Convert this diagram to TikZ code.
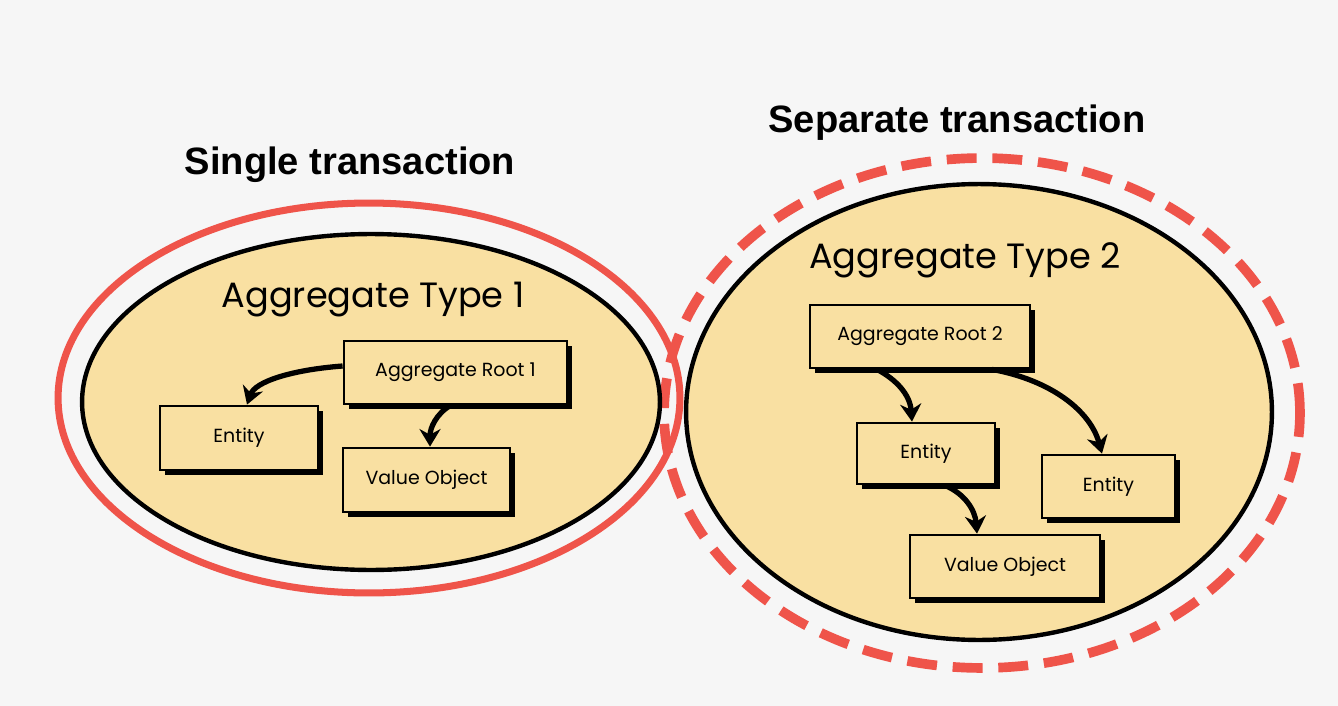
\documentclass[tikz,border=0pt]{standalone}
\usepackage{fontspec}
\setmainfont{Liberation Sans}
\newfontfamily\boxfont{Poppins}
\usetikzlibrary{arrows.meta,calc,shadows}
\definecolor{bg}{RGB}{246,246,246}
\definecolor{beige}{RGB}{249,224,162}
\definecolor{tred}{RGB}{239,84,74}
\tikzset{
  bx/.style={draw=black, line width=1.6pt, fill=beige, inner sep=0pt,
    font=\boxfont\fontsize{10.8}{12}\selectfont,
    drop shadow={shadow xshift=2.8pt, shadow yshift=-2.8pt, fill=black, opacity=1}},
  arr/.style={line width=3pt, -{Stealth[length=10pt,width=12pt]}},
  ttl/.style={font=\bfseries\fontsize{21.7}{26}\selectfont},
  agg/.style={font=\boxfont\fontsize{20}{24}\selectfont},
  blk/.style={draw=black, line width=2.5pt, fill=beige},
}
\begin{document}
\begin{tikzpicture}[x=0.02cm,y=-0.02cm]
\fill[bg] (0,0) rectangle (1338,706);
\useasboundingbox (0,0) rectangle (1338,706);
% ellipses
\draw[tred, line width=5.5pt, dash pattern=on 17pt off 9pt] (982,413) ellipse [x radius=6.36cm, y radius=5.1cm];
\draw[tred, line width=4pt] (369,398) ellipse [x radius=6.22cm, y radius=3.9cm];
\draw[blk] (371,402) ellipse [x radius=5.78cm, y radius=3.36cm];
\draw[blk] (979,412) ellipse [x radius=5.86cm, y radius=4.56cm];
% titles
\node[ttl] (t1) at (350,165) {Single transaction};
\node[ttl] (t2) at (957,123) {Separate transaction};
\node[agg] (a1) at (373,300) {Aggregate Type 1};
\node[agg] (a2) at (965,260) {Aggregate Type 2};
% left boxes
\node[bx, minimum width=4.46cm, minimum height=1.26cm] (r1) at (455.5,372.5) {Aggregate Root 1};
\node[bx, minimum width=3.16cm, minimum height=1.28cm] (e1) at (239,438) {Entity};
\node[bx, minimum width=3.34cm, minimum height=1.28cm] (v1) at (426.5,480) {Value Object};
% right boxes
\node[bx, minimum width=4.4cm, minimum height=1.26cm] (r2) at (920,336.5) {Aggregate Root 2};
\node[bx, minimum width=2.76cm, minimum height=1.22cm] (e2) at (926,453.5) {Entity};
\node[bx, minimum width=2.66cm, minimum height=1.26cm] (e3) at (1108.5,486.5) {Entity};
\node[bx, minimum width=3.8cm, minimum height=1.26cm] (v2) at (1005,566.5) {Value Object};
% arrows
\draw[arr] ($(r1.west)+(0,-6.5)$) .. controls (290,370) and (255,382) .. ($(e1.north)+(8,0)$);
\draw[arr] ($(r1.south)+(-5,0)$) .. controls (436,414) and (430,428) .. ($(v1.north)+(3.5,0)$);
\draw[arr] ($(r2.south)+(-43,0)$) .. controls (897,380) and (910,395) .. ($(e2.north)+(-14,0)$);
\draw[arr] ($(r2.south)+(72,0)$) .. controls (1050,380) and (1090,410) .. ($(e3.north)+(-6.5,0)$);
\draw[arr] ($(e2.south)+(19,0)$) .. controls (965,494) and (975,510) .. ($(v2.north)+(-28,0)$);
\end{tikzpicture}
\end{document}
